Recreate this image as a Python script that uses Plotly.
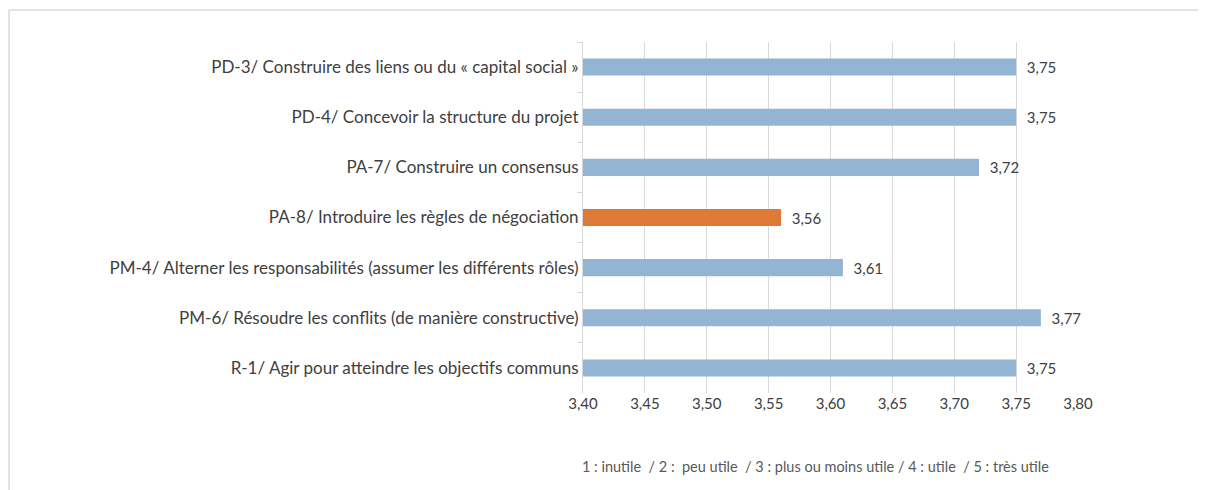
import plotly.graph_objects as go

categories = [
    "PD-3/ Construire des liens ou du « capital social »",
    "PD-4/ Concevoir la structure du projet",
    "PA-7/ Construire un consensus",
    "PA-8/ Introduire les règles de négociation",
    "PM-4/ Alterner les responsabilités (assumer les différents rôles)",
    "PM-6/ Résoudre les conflits (de manière constructive)",
    "R-1/ Agir pour atteindre les objectifs communs",
]
scores = [3.75, 3.75, 3.72, 3.56, 3.61, 3.77, 3.75]
highlight = "PA-8/ Introduire les règles de négociation"
x_ticks = [3.40, 3.45, 3.50, 3.55, 3.60, 3.65, 3.70, 3.75, 3.80]

colors = ["#DD7A38" if c == highlight else "#93B4D3" for c in categories]

# plot area in figure pixels
L, R, T, B = 575, 1070, 34, 385
W, H = 1198, 482
pw, ph = R - L, B - T

fig = go.Figure(go.Bar(
    x=scores,
    y=categories,
    orientation="h",
    width=0.34,
    marker=dict(color=colors, line=dict(width=0)),
    texttemplate="\u00a0\u00a0%{x:.2f}",
    textposition="outside",
    constraintext="none",
    textfont=dict(size=15, color="#404040"),
    cliponaxis=False,
))

border = dict(type="line", xref="paper", yref="paper",
              line=dict(color="#D9D9D9", width=1.5), layer="below")

fig.update_layout(
    width=W, height=H,
    margin=dict(l=L, r=W - R, t=T, b=H - B),
    plot_bgcolor="white", paper_bgcolor="white",
    separators=", ",
    font=dict(family="Lato, Carlito, Calibri, sans-serif", color="#404040"),
    showlegend=False,
    xaxis=dict(
        range=[3.40, 3.80], tickvals=x_ticks, tickformat=".2f",
        showgrid=True, gridcolor="#D9D9D9", gridwidth=1,
        zeroline=False, showline=False, ticks="",
        tickfont=dict(size=15, color="#404040"),
    ),
    yaxis=dict(
        autorange="reversed", automargin=False,
        showline=True, linecolor="#D9D9D9", linewidth=1,
        ticks="outside", tickson="boundaries", ticklen=5, tickcolor="#D9D9D9",
        showgrid=False,
        tickfont=dict(size=17, color="#404040"),
    ),
    shapes=[
        dict(border, x0=(1 - L) / pw, x1=(1 - L) / pw, y0=-1, y1=1 + (T - 2) / ph),
        dict(border, x0=(1 - L) / pw, x1=(W + 20 - L) / pw,
             y0=1 + (T - 2) / ph, y1=1 + (T - 2) / ph),
    ],
    annotations=[dict(
        text="1 : inutile  / 2 :  peu utile  / 3 : plus ou moins utile / 4 : utile  / 5 : très utile",
        xref="paper", yref="paper", x=(807 - L) / pw, y=-(458 - B) / ph,
        xanchor="center", yanchor="middle", showarrow=False,
        font=dict(size=14.5, color="#595959"),
    )],
)

fig.write_html("out.html")
